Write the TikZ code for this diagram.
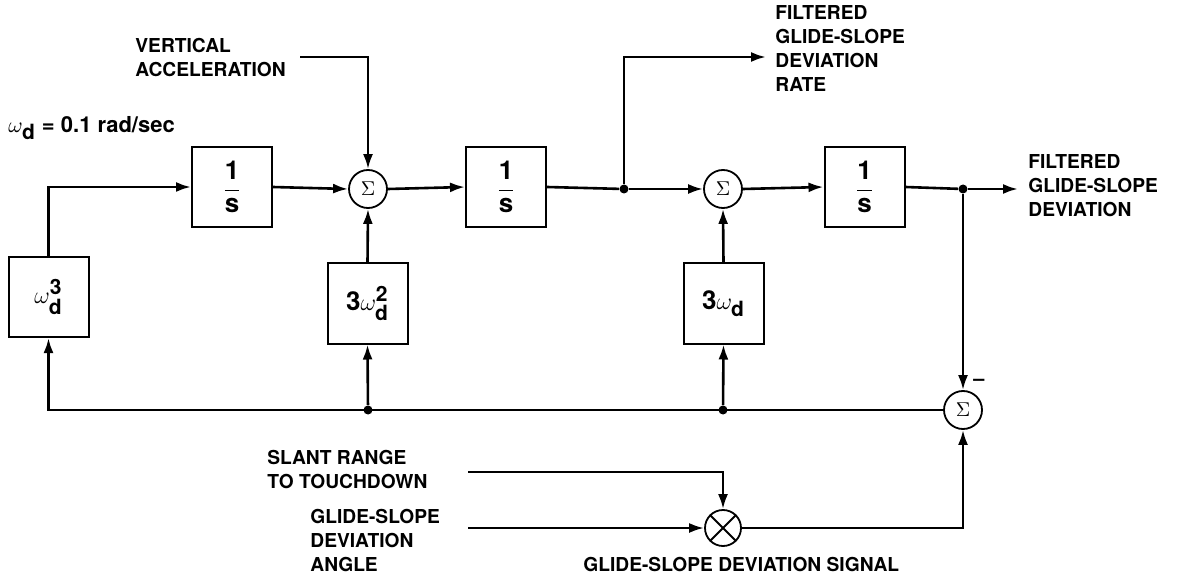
\documentclass[tikz,border=0pt]{standalone}
\usepackage{amsmath}
\usepackage{fontspec}
\setmainfont{TeX Gyre Heros}
\usetikzlibrary{arrows.meta}
\tikzset{
  blk/.style={draw, line width=1pt, minimum width=40pt, minimum height=40pt, inner sep=0pt, font=\fontsize{13}{15}\selectfont\bfseries},
  sumc/.style={draw, circle, line width=0.9pt, minimum size=19pt, inner sep=0pt},
  conn/.style={line width=1.3pt},
  arr/.style={conn, -{Latex[length=7.5pt,width=5pt]}},
  dot/.style={circle, fill, inner sep=0pt, minimum size=4.5pt},
  lbl/.style={align=left, inner sep=0pt, font=\fontsize{9.6}{12}\selectfont\bfseries},
}
\newcommand{\oneover}{$\dfrac{\text{1}}{\text{s}}$}
\newcommand{\bigscr}[1]{\text{\fontsize{10.5}{11}\selectfont #1}}
\begin{document}
\begin{tikzpicture}[x=0.5pt, y=-0.5pt]
\useasboundingbox (0,0) rectangle (1188,577);
% nodes
\node[lbl, anchor=west, font=\fontsize{11}{13}\selectfont\bfseries] (wd) at (8,128) {$\omega_{\bigscr{d}}$ = 0.1 rad/sec};
\node[blk] (w3) at (48.5,297) {$\omega_{\bigscr{d}}^{\bigscr{3}}$};
\node[blk] (b1) at (232,187) {\oneover};
\node[sumc] (s1) at (368,189) {$\Sigma$};
\node[blk] (w2) at (367.5,303.5) {3$\omega_{\bigscr{d}}^{\bigscr{2}}$};
\node[blk] (b2) at (506,187) {\oneover};
\node[sumc] (s2) at (723,189) {$\Sigma$};
\node[blk] (w1) at (723.5,303.5) {3$\omega_{\bigscr{d}}$};
\node[blk] (b3) at (864.5,187) {\oneover};
\node[sumc] (s3) at (963,410) {$\Sigma$};
\node[font=\fontsize{10}{12}\selectfont\bfseries, inner sep=0pt] (minus) at (979,382) {\textendash};
\node[sumc, minimum size=18pt] (mul) at (723,528) {};
\draw[line width=0.9pt] (mul.north east) -- (mul.south west) (mul.north west) -- (mul.south east);

\node[lbl, anchor=west] (va) at (135,58) {VERTICAL\\ACCELERATION};
\node[lbl, anchor=west] (rate) at (775,49) {FILTERED\\GLIDE-SLOPE\\DEVIATION\\RATE};
\node[lbl, anchor=west] (out) at (1028,186) {FILTERED\\GLIDE-SLOPE\\DEVIATION};
\node[lbl, anchor=west] (slant) at (267,469) {SLANT RANGE\\TO TOUCHDOWN};
\node[lbl, anchor=west] (gsa) at (310,540) {GLIDE-SLOPE\\DEVIATION\\ANGLE};
\node[lbl, anchor=west] (sig) at (583,564) {GLIDE-SLOPE DEVIATION SIGNAL};

% coordinates
\coordinate (vaS) at (300,57);
\node[dot] (j1) at (624,189) {};
\node[dot] (j2) at (963,189) {};
\coordinate (rateE) at (766,57);
\coordinate (outE) at (1018,189);
\node[dot] (d1) at (368,410) {};
\node[dot] (d2) at (723,410) {};
\coordinate (slS) at (468,472);
\coordinate (gsS) at (468,528);

% connectors
\draw[arr] (w3.north) |- (b1.west);
\draw[arr] (b1.east) -- (s1.west);
\draw[arr] (vaS) -| (s1.north);
\draw[arr] (w2.north) -- (s1.south);
\draw[arr] (s1.east) -- (b2.west);
\draw[conn] (b2.east) -- (j1);
\draw[arr] (j1) |- (rateE);
\draw[arr] (j1) -- (s2.west);
\draw[arr] (w1.north) -- (s2.south);
\draw[arr] (s2.east) -- (b3.west);
\draw[conn] (b3.east) -- (j2);
\draw[arr] (j2) -- (outE);
\draw[arr] (j2) -- (s3.north);
\draw[arr] (s3.west) -| (w3.south);
\draw[arr] (d1) -- (w2.south);
\draw[arr] (d2) -- (w1.south);
\draw[arr] (slS) -| (mul.north);
\draw[arr] (gsS) -- (mul.west);
\draw[arr] (mul.east) -| (s3.south);
\end{tikzpicture}
\end{document}
